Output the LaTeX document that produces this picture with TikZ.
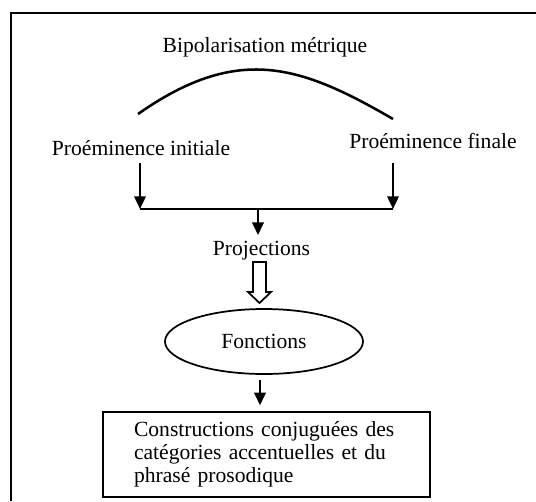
\documentclass[tikz,border=0pt]{standalone}
\usepackage{fontspec}
\setmainfont{Liberation Serif}
\usetikzlibrary{arrows.meta,shapes.geometric}

\begin{document}
\begin{tikzpicture}[
    x=0.75pt,
    y=-0.75pt,
    >={Triangle[length=9.5pt, width=8.5pt]},
    lbl/.style={font=\fontsize{16.2}{17.3}\selectfont, inner sep=4pt},
    oval/.style={draw, ellipse, line width=1.3pt, minimum width=148.5pt, minimum height=48.75pt, inner sep=0pt, font=\fontsize{16.2}{17.3}\selectfont},
    box/.style={draw, line width=2pt, align=left, text width=198.75pt, inner xsep=23.25pt, minimum height=63.75pt, font=\fontsize{16.2}{17.3}\selectfont},
    hollow/.style={draw, line width=1.3pt, line join=miter},
    line/.style={->, line width=1.9pt},
    bar/.style={line width=1.9pt},
    frame/.style={line width=2pt}
]
\useasboundingbox (0,0) rectangle (536,501);
\draw[frame] (11,501) -- (11,13) -- (536,13);

\node[lbl, anchor=base] (bip) at (265,52) {Bipolarisation métrique};
\node[lbl, anchor=base] (init) at (141,155) {Proéminence initiale};
\node[lbl, anchor=base] (fin) at (433,148) {Proéminence finale};
\node[lbl, anchor=base] (proj) at (261.5,255) {Projections};
\node[oval] (fonc) at (264,341.5) {Fonctions};
\node[box] (cons) at (266.5,454.5) {Constructions conjuguées des\\catégories accentuelles et du\\phrasé prosodique};

\coordinate (al) at (138,114);
\coordinate (ar) at (393,119);
\coordinate (jl) at (140,209);
\coordinate (jr) at (393,209);
\coordinate (jm) at (258,209);
\coordinate (hol) at (259.5,262);

% arc between the two prominences
\draw[bar] (al) .. controls (238,44) and (300,65) .. (ar);

\draw[line, shorten <=2pt] (init.south -| jl) -- (jl);
\draw[line, shorten <=7pt] (fin.south -| jr) -- (jr);
\draw[bar] (jl) -- (jr);
\draw[line] (jm) -- (jm |- proj.north);

% open arrow down to the functions
\draw[hollow] (hol) ++(-6.5,0) -- ++(13,0) -- ++(0,30) -- ++(5,0) -- ++(-11.5,11)
    -- ++(-11.5,-11) -- ++(5,0) -- cycle;

\draw[line, shorten <=4pt, shorten >=4pt] (fonc.south) ++(-4,0) -- (cons.north -| 260,0);
\end{tikzpicture}
\end{document}
